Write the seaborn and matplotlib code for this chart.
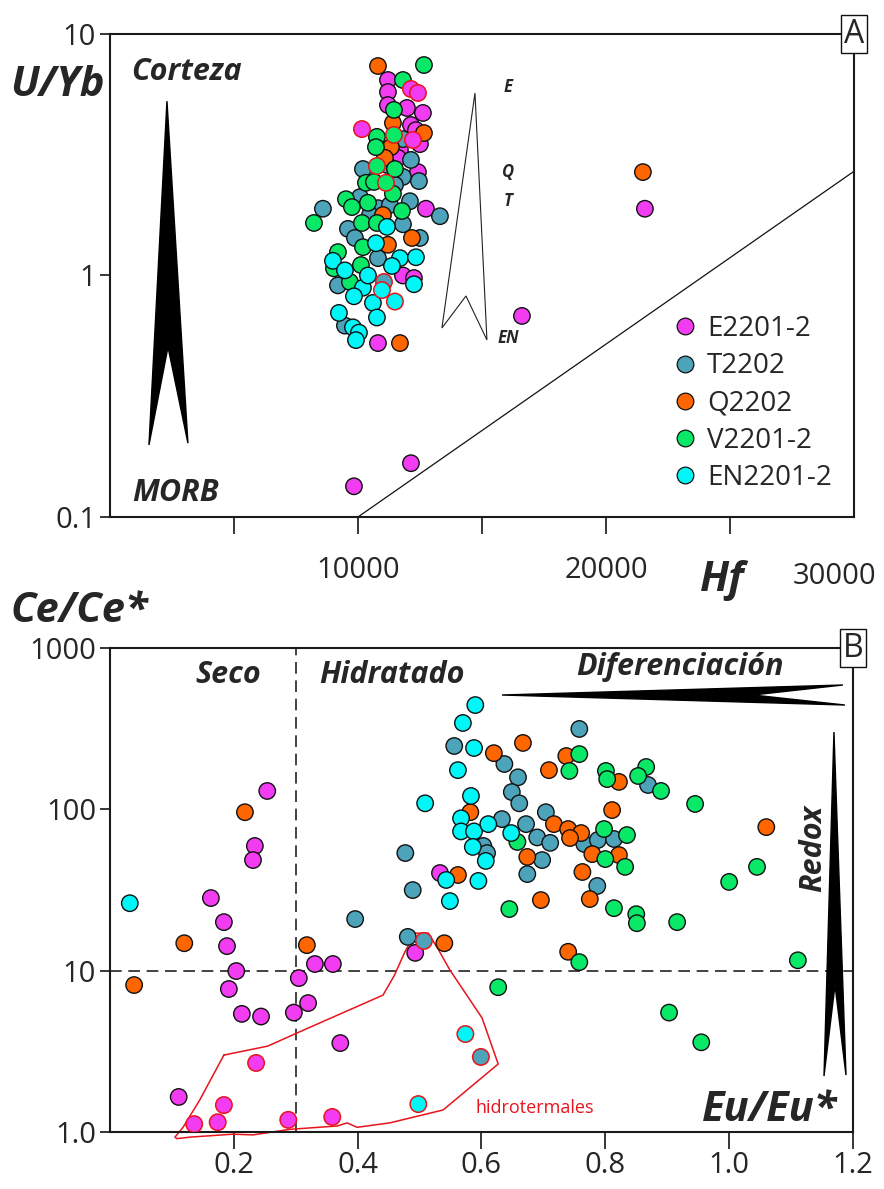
import numpy as np
import pandas as pd
import seaborn as sns
import matplotlib.pyplot as plt
from matplotlib.patches import Polygon
from matplotlib.lines import Line2D
from matplotlib.ticker import NullLocator

samples = ["E2201-2", "T2202", "Q2202", "V2201-2", "EN2201-2"]
colors = ["#F23CF2", "#4CA3BA", "#FF6600", "#0AE868", "#00F7F7"]

# panel A: Hf vs U/Yb (plain edge / red edge = hydrothermal)
e_hf = [11209, 11209, 11209, 11975, 12620, 12137, 12499, 11693, 11612, 12338,
        12419, 12741, 11814, 12258, 10806, 16612, 21571, 12137, 9838]
e_uyb = [6.45, 5.75, 5.08, 4.94, 4.71, 4.20, 3.50, 3.31, 3.07, 4.0,
         2.68, 1.89, 1.00, 0.976, 0.525, 0.68, 1.89, 0.167, 0.134]
e_hf_r = [12137, 12419, 10161, 12217]
e_uyb_r = [5.92, 5.70, 4.04, 3.64]

t_hf = [11814, 12137, 10201, 11169, 11814, 12459, 12096, 10080, 10806, 11290,
        13306, 8588, 9596, 11814, 12499, 10806, 9193, 9475, 10483, 9878, 11491]
t_uyb = [3.67, 3.01, 2.76, 2.87, 2.56, 2.46, 2.03, 2.11, 1.90, 1.96,
         1.76, 1.89, 1.56, 1.63, 1.43, 1.18, 0.91, 0.62, 1.78, 1.43, 2.37]
t_hf_r = [11048]
t_uyb_r = [0.94]

q_hf = [10806, 11410, 12661, 11330, 11088, 12177, 11693, 21490, 11008, 11209]
q_uyb = [7.37, 4.28, 3.89, 3.40, 3.07, 1.43, 0.525, 2.68, 1.78, 1.34]

v_hf = [12661, 11814, 11451, 10765, 10725, 11491, 10322, 10644, 11410, 9516, 9757,
        10403, 11773, 8225, 10161, 10765, 10201, 9193, 9032, 10120, 9677]
v_uyb = [7.44, 6.45, 4.85, 3.75, 3.40, 2.76, 2.42, 2.44, 2.18, 2.07, 1.92,
         2.00, 1.85, 1.65, 1.65, 1.65, 1.31, 1.25, 1.07, 1.105, 0.94]
v_hf_r = [11451, 10765, 11129]
v_uyb_r = [3.82, 2.84, 2.42]

en_hf = [11169, 10725, 8991, 11693, 12338, 11370, 10201, 12258, 9838, 10604,
         9233, 9798, 10040, 10765, 9919, 9475, 10403]
en_uyb = [1.59, 1.36, 1.15, 1.18, 1.19, 1.095, 0.89, 0.92, 0.82, 0.77,
          0.70, 0.61, 0.58, 0.67, 0.54, 1.05, 1.00]
en_hf_r = [10967, 11491]
en_uyb_r = [0.87, 0.78]

line_hf = [10000, 30000]
line_uyb = [0.1, 2.7]

# panel B: Eu/Eu* vs Ce/Ce*
e_eu = [0.254, 0.234, 0.231, 0.163, 0.184, 0.189, 0.204, 0.192, 0.213, 0.244,
        0.297, 0.320, 0.305, 0.331, 0.360, 0.372, 0.493, 0.533, 0.111]
e_ce = [130, 59.3, 48.5, 28.2, 20.0, 14.2, 9.95, 7.7, 5.4, 5.2,
        5.5, 6.3, 9.0, 11.0, 11.0, 3.56, 12.9, 40.3, 1.65]
e_eu_r = [0.236, 0.184, 0.136, 0.174, 0.288, 0.359]
e_ce_r = [2.68, 1.47, 1.12, 1.15, 1.19, 1.24]

t_eu = [0.556, 0.637, 0.659, 0.758, 0.649, 0.661, 0.704, 0.633, 0.672, 0.690,
        0.711, 0.698, 0.674, 0.603, 0.609, 0.766, 0.788, 0.814, 0.869, 0.787,
        0.477, 0.489, 0.396, 0.481]
t_ce = [247, 191, 158, 315, 128, 109, 96, 87, 81, 67,
        62, 48.5, 39.7, 59.3, 53.6, 61, 64.6, 65.5, 141.6, 33.5,
        53.6, 31.6, 20.9, 16.2]
t_eu_r = [0.507, 0.599]
t_ce_r = [15.3, 2.92]

q_eu = [0.667, 0.620, 0.737, 0.709, 0.822, 0.582, 0.811, 1.060, 0.717, 0.740,
        0.761, 0.743, 0.779, 0.822, 0.674, 0.763, 0.775, 0.696, 0.562, 0.218,
        0.120, 0.318, 0.540, 0.039, 0.740]
q_ce = [258, 223, 214, 175, 148, 96, 99, 77.6, 81, 75.5,
        71.3, 66.4, 52.8, 52.1, 50.7, 40.9, 27.8, 27.4, 39.2, 96,
        14.8, 14.4, 14.8, 8.15, 13.1]

v_eu = [0.758, 0.742, 0.801, 0.803, 0.866, 0.853, 0.890, 0.945, 0.798, 0.835,
        0.800, 0.832, 0.658, 1.045, 1.000, 0.814, 0.850, 0.851, 0.916, 0.645,
        0.758, 1.111, 0.627, 0.903, 0.955]
v_ce = [220, 173, 173, 154, 183, 161, 130, 108, 75.5, 69.3,
        49.2, 44, 62.8, 44, 35.5, 24.4, 22.4, 19.7, 20.0, 24.1,
        11.3, 11.6, 7.9, 5.5, 3.6]

en_eu = [0.590, 0.570, 0.588, 0.562, 0.509, 0.583, 0.567, 0.567, 0.588, 0.611,
         0.648, 0.586, 0.607, 0.595, 0.549, 0.543, 0.032]
en_ce = [443, 343, 240, 175, 109, 121, 88, 73, 73, 81,
         71.3, 58.5, 47.9, 36, 27, 36.5, 26.2]
en_eu_r = [0.498, 0.574]
en_ce_r = [1.49, 4.05]

hyd_eu = [0.184, 0.255, 0.302, 0.441, 0.459, 0.476, 0.493, 0.514, 0.530, 0.549,
          0.601, 0.627, 0.538, 0.452, 0.399, 0.383, 0.367, 0.291, 0.231, 0.199,
          0.129, 0.108, 0.105, 0.118, 0.145, 0.184]
hyd_ce = [3.0, 3.41, 4.11, 7.06, 9.3, 13.0, 17.1, 17.1, 13.6, 10.1,
          5.09, 2.64, 1.37, 1.14, 1.07, 1.14, 1.09, 1.04, 0.96, 0.97,
          0.93, 0.91, 0.93, 1.07, 1.58, 3.0]


def build(groups):
    rows = []
    for name, xs, ys, red in groups:
        for x, y in zip(xs, ys):
            rows.append({"sample": name, "x": x, "y": y, "red": red})
    return pd.DataFrame(rows)


top = build([
    ("E2201-2", e_hf, e_uyb, False), ("T2202", t_hf, t_uyb, False),
    ("Q2202", q_hf, q_uyb, False), ("V2201-2", v_hf, v_uyb, False),
    ("EN2201-2", en_hf, en_uyb, False),
    ("E2201-2", e_hf_r, e_uyb_r, True), ("T2202", t_hf_r, t_uyb_r, True),
    ("V2201-2", v_hf_r, v_uyb_r, True), ("EN2201-2", en_hf_r, en_uyb_r, True),
])
bot = build([
    ("E2201-2", e_eu, e_ce, False), ("T2202", t_eu, t_ce, False),
    ("Q2202", q_eu, q_ce, False), ("V2201-2", v_eu, v_ce, False),
    ("EN2201-2", en_eu, en_ce, False),
    ("E2201-2", e_eu_r, e_ce_r, True), ("T2202", t_eu_r, t_ce_r, True),
    ("EN2201-2", en_eu_r, en_ce_r, True),
])

sns.set_style("ticks")
plt.rcParams["font.family"] = ["Open Sans", "DejaVu Sans"]
pal = dict(zip(samples, colors))
lab = dict(fontweight="bold", fontstyle="italic")

fig = plt.figure(figsize=(8.84, 11.89), dpi=100)
ax1 = fig.add_axes([0.1244, 0.5652, 0.8416, 0.4062])
ax2 = fig.add_axes([0.1244, 0.0479, 0.8405, 0.4071])


def dots(ax, df):
    sns.scatterplot(data=df[~df.red], x="x", y="y", hue="sample", palette=pal,
                    s=140, edgecolor="#111111", linewidth=1.0, legend=False,
                    ax=ax, zorder=3)
    sns.scatterplot(data=df[df.red], x="x", y="y", hue="sample", palette=pal,
                    s=140, edgecolor="#E8141C", linewidth=1.1, legend=False,
                    ax=ax, zorder=3)


for ax in (ax1, ax2):
    for sp in ax.spines.values():
        sp.set_linewidth(1.5)
        sp.set_color("#1a1a1a")

# ---- panel A
dots(ax1, top)
ax1.plot(line_hf, line_uyb, color="#111111", lw=0.9)
ax1.set_yscale("log")
ax1.set_xlim(0, 30000)
ax1.set_ylim(0.1, 10)
ax1.set_xticks([5000, 10000, 15000, 20000, 25000])
ax1.set_xticklabels(["", "10000", "", "20000", ""])
ax1.set_yticks([0.1, 1, 10])
ax1.set_yticklabels(["0.1", "1", "10"])
ax1.yaxis.set_minor_locator(NullLocator())
ax1.tick_params(axis="x", length=12, width=1.3, pad=16, labelsize=21)
ax1.tick_params(axis="y", length=7, width=1.3, pad=3, labelsize=21)
ax1.text(0.974, -0.094, "30000", transform=ax1.transAxes, ha="center", va="top", fontsize=21)
ax1.set_xlabel("")
ax1.set_ylabel("")

ax1.add_patch(Polygon([[0.0766, 0.861], [0.0524, 0.149], [0.078, 0.352], [0.1048, 0.153]],
                      closed=True, transform=ax1.transAxes, facecolor="black", edgecolor="black"))
ax1.add_patch(Polygon([[0.4906, 0.8778], [0.4462, 0.3913], [0.4785, 0.4576], [0.5067, 0.3665]],
                      closed=True, transform=ax1.transAxes, facecolor="white",
                      edgecolor="#222222", lw=0.8))
ax1.text(0.1035, 0.921, "Corteza", transform=ax1.transAxes, ha="center", va="center", fontsize=22, **lab)
ax1.text(0.0887, 0.05, "MORB", transform=ax1.transAxes, ha="center", va="center", fontsize=22, **lab)
for t, y in [("E", 0.890), ("Q", 0.714), ("T", 0.654), ("EN", 0.371)]:
    ax1.text(0.535, y, t, transform=ax1.transAxes, ha="center", va="center", fontsize=12, **lab)

handles = [Line2D([], [], ls="", marker="o", markersize=12, markerfacecolor=c,
                  markeredgecolor="#111111", markeredgewidth=0.9) for c in colors]
ax1.legend(handles, samples, loc="upper left", bbox_to_anchor=(0.754, 0.418),
           frameon=False, fontsize=20, handletextpad=0.3, labelspacing=0.33,
           borderaxespad=0, borderpad=0, handlelength=1.0)
ax1.text(1.0, 1.0, "A", transform=ax1.transAxes, ha="center", va="center", fontsize=23,
         bbox=dict(boxstyle="square,pad=0.08", facecolor="white", edgecolor="#111111", lw=1))

fig.text(0.0645, 0.9277, "U/Yb", ha="center", va="center", fontsize=30, **lab)
fig.text(0.8167, 0.5114, "Hf", ha="center", va="center", fontsize=30, **lab)
fig.text(0.0894, 0.4853, "Ce/Ce*", ha="center", va="center", fontsize=30, **lab)

# ---- panel B
dots(ax2, bot)
ax2.plot(hyd_eu, hyd_ce, color="#E8141C", lw=1.1, clip_on=False, zorder=2)
ax2.axvline(0.3, color="#222222", lw=1.2, ls=(0, (7, 4)), zorder=1)
ax2.axhline(10, color="#222222", lw=1.2, ls=(0, (7, 4)), zorder=1)
ax2.set_yscale("log")
ax2.set_xlim(0, 1.2)
ax2.set_ylim(1, 1000)
ax2.set_xticks([0.2, 0.4, 0.6, 0.8, 1.0, 1.2])
ax2.set_xticklabels(["0.2", "0.4", "0.6", "0.8", "1.0", "1.2"])
ax2.set_yticks([1, 10, 100, 1000])
ax2.set_yticklabels(["1.0", "10", "100", "1000"])
ax2.yaxis.set_minor_locator(NullLocator())
ax2.tick_params(axis="x", length=12, width=1.3, pad=2, labelsize=21)
ax2.tick_params(axis="y", length=7, width=1.3, pad=3, labelsize=21)
ax2.set_xlabel("")
ax2.set_ylabel("")

ax2.add_patch(Polygon([[0.5276, 0.9029], [0.9865, 0.9236], [0.8654, 0.9029], [0.9892, 0.8822]],
                      closed=True, transform=ax2.transAxes, facecolor="black", edgecolor="black"))
ax2.add_patch(Polygon([[0.9744, 0.8264], [0.961, 0.1157], [0.9758, 0.3037], [0.9906, 0.1178]],
                      closed=True, transform=ax2.transAxes, facecolor="black", edgecolor="black"))
ax2.text(0.1588, 0.944, "Seco", transform=ax2.transAxes, ha="center", va="center", fontsize=22, **lab)
ax2.text(0.3795, 0.944, "Hidratado", transform=ax2.transAxes, ha="center", va="center", fontsize=22, **lab)
ax2.text(0.767, 0.961, "Diferenciación", transform=ax2.transAxes, ha="center", va="center", fontsize=22, **lab)
ax2.text(0.946, 0.587, "Redox", transform=ax2.transAxes, ha="center", va="center", fontsize=22,
         rotation=90, **lab)
ax2.text(0.888, 0.045, "Eu/Eu*", transform=ax2.transAxes, ha="center", va="center", fontsize=30, **lab)
ax2.text(0.572, 0.05, "hidrotermales", transform=ax2.transAxes, ha="center", va="center",
         fontsize=13, color="#E8141C")
ax2.text(1.0, 1.0, "B", transform=ax2.transAxes, ha="center", va="center", fontsize=23,
         bbox=dict(boxstyle="square,pad=0.08", facecolor="white", edgecolor="#111111", lw=1))

fig.savefig("out.png", dpi=100)
